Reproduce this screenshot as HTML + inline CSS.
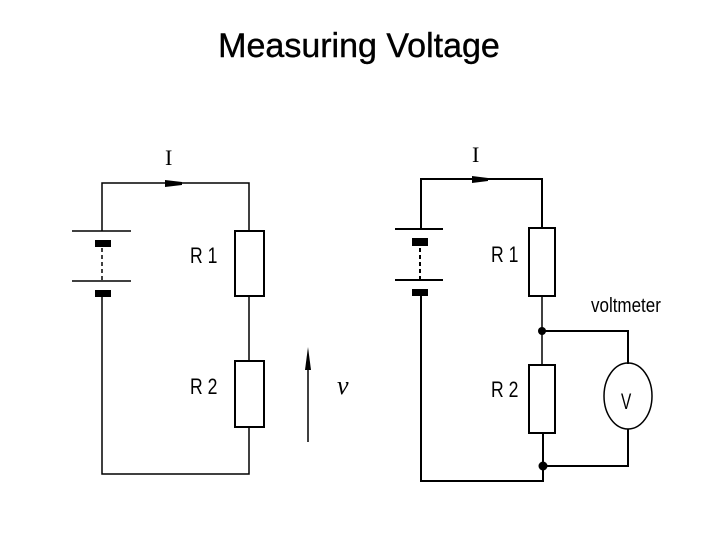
<!DOCTYPE html>
<html><head><meta charset="utf-8"><style>
html,body{margin:0;padding:0;background:#fff;}
svg{display:block;}
</style></head><body>
<svg width="720" height="540" viewBox="0 0 720 540" xmlns="http://www.w3.org/2000/svg">
<rect width="720" height="540" fill="#fff"/>
<text x="359" y="57" font-family="Liberation Sans, sans-serif" font-size="34" text-anchor="middle" fill="#000" stroke="#000" stroke-width="0.4">Measuring Voltage</text>

<g stroke="#000" fill="none" stroke-width="1.5">
<polyline points="102,231 102,183 249,183 249,231"/>
<line x1="72" y1="231" x2="131" y2="231"/>
<line x1="72" y1="281" x2="131" y2="281"/>
<line x1="102" y1="248" x2="102" y2="281" stroke-dasharray="4,3"/>
<polyline points="102,296 102,474 249,474 249,427"/>
<line x1="249" y1="296" x2="249" y2="361"/>
<rect x="235" y="231" width="29" height="65" stroke-width="2"/>
<rect x="235" y="361" width="29" height="66" stroke-width="2"/>
<line x1="308" y1="360" x2="308" y2="442"/>

<polyline points="421,229 421,179 542,179 542,228" stroke-width="2"/>
<line x1="395" y1="229" x2="443" y2="229" stroke-width="2"/>
<line x1="395" y1="280" x2="443" y2="280" stroke-width="2"/>
<line x1="420" y1="248" x2="420" y2="280" stroke-dasharray="4,3" stroke-width="2"/>
<polyline points="421,296 421,481 543,481 543,433" stroke-width="2"/>
<line x1="542" y1="296" x2="542" y2="365"/>
<rect x="529" y="228" width="26" height="68" stroke-width="2"/>
<rect x="529" y="365" width="26" height="68" stroke-width="2"/>
<polyline points="542,331 628,331 628,364" stroke-width="2"/>
<polyline points="543,466 628,466 628,429" stroke-width="2"/>
<ellipse cx="628" cy="396" rx="24" ry="33"/>
</g>

<g fill="#000">
<rect x="95" y="240" width="16" height="7"/>
<rect x="95" y="290" width="16" height="7"/>
<polygon points="165,180 182,182 182,185 165,187"/>
<polygon points="305,370 308,347 311,370"/>
<rect x="412" y="238" width="16" height="8"/>
<rect x="412" y="289" width="16" height="7"/>
<polygon points="472,176 488,178 488,181 472,183"/>
<circle cx="542" cy="331" r="4"/>
<circle cx="543" cy="466" r="4.5"/>
</g>

<g font-family="Liberation Serif, serif" fill="#000">
<text x="165" y="165" font-size="22">I</text>
<text x="472" y="162" font-size="22">I</text>
<text x="337" y="394" font-size="26" font-style="italic">v</text>
</g>
<g font-family="Liberation Sans, sans-serif" fill="#000" font-size="22">
<text x="190" y="263" transform="translate(190,0) scale(0.8,1) translate(-190,0)">R 1</text>
<text x="190" y="394" transform="translate(190,0) scale(0.8,1) translate(-190,0)">R 2</text>
<text x="491" y="262" transform="translate(491,0) scale(0.8,1) translate(-491,0)">R 1</text>
<text x="491" y="397" transform="translate(491,0) scale(0.8,1) translate(-491,0)">R 2</text>
<text x="621" y="409" font-size="22" transform="translate(621,0) scale(0.7,1) translate(-621,0)">V</text>
<text x="591" y="312" font-size="20" transform="translate(591,0) scale(0.85,1) translate(-591,0)">voltmeter</text>
</g>
</svg>
</body></html>
